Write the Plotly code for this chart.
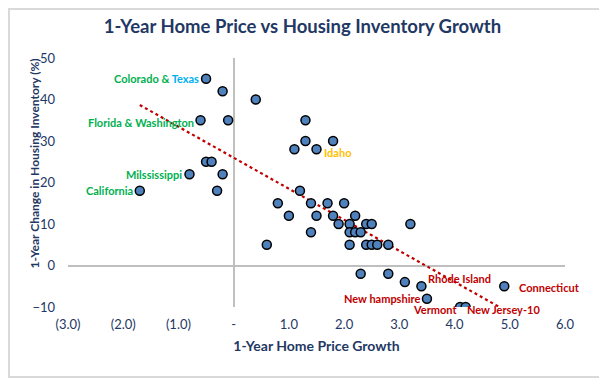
import numpy as np
import plotly.graph_objects as go

# ---- data ----
price_growth = [-0.5, -0.2, 0.4, -0.6, -0.1, -0.5, -0.4, -0.8, -0.2, -1.7, -0.3,
                1.3, 1.3, 1.8, 1.1, 1.5,
                1.2, 0.8, 1.4, 1.7, 2.0, 1.0, 1.5, 1.8, 2.2, 1.9, 2.1, 2.4, 2.5, 3.2,
                1.4, 2.1, 2.2, 2.3, 0.6, 2.1, 2.4, 2.5, 2.6, 2.8,
                2.3, 2.8, 3.1, 3.4, 3.5, 4.1, 4.2, 4.9]
inventory_growth = [45, 42, 40, 35, 35, 25, 25, 22, 22, 18, 18,
                    35, 30, 30, 28, 28,
                    18, 15, 15, 15, 15, 12, 12, 12, 12, 10, 10, 10, 10, 10,
                    8, 8, 8, 8, 5, 5, 5, 5, 5, 5,
                    -2, -2, -4, -5, -8, -10, -10, -5]

# labelled states: point index and text
label_index = [0, 3, 7, 9, 15, 43, 47, 44, 45, 46]
label_text = ['Colorado & <span style="color:#00B0F0">Texas</span>',
              'Florida & Washington', 'Milssissippi', 'California', 'Idaho',
              'Rhode Island', 'Connecticut', 'New hampshire', 'Vermont', 'New Jersey-10']
label_color = ['#00B050', '#00B050', '#00B050', '#00B050', '#FFC000',
               '#C00000', '#C00000', '#C00000', '#C00000', '#C00000']
label_side = ['left', 'left', 'left', 'left', 'right',
              'right', 'right', 'left', 'left', 'right']
label_dx = [-5, -5, -5, -5, 5, 5, 13, -5, -1, -1]
label_dy = [0, -2, 0, 0, -3, 8, -1, 0, -2, -2]

x_tickvals = [-3, -2, -1, 0, 1, 2, 3, 4, 5, 6]
x_ticktext = ['(3.0)', '(2.0)', '(1.0)', '-', '1.0', '2.0', '3.0', '4.0', '5.0', '6.0']
y_tickvals = [-10, 0, 10, 20, 30, 40, 50]

NAVY = '#1F3864'
FONT = 'Lato'

# page body has an 8px margin -> layout is expressed in figure coordinates
W, H = 607, 382
ML, MR, MT, MB = 60, 50, 50, 83
PW, PH = W - ML - MR, H - MT - MB


def px(fx):
    return (fx - ML) / PW


def py(fy):
    return (H - MB - fy) / PH


fig = go.Figure()

# trendline (linear fit)
slope, intercept = np.polyfit(price_growth, inventory_growth, 1)
tx = np.array([min(price_growth), max(price_growth)])
fig.add_trace(go.Scatter(x=tx, y=slope * tx + intercept, mode='lines',
                         line=dict(color='#C00000', width=2.2, dash='dot'),
                         hoverinfo='skip', showlegend=False))

fig.add_trace(go.Scatter(x=price_growth, y=inventory_growth, mode='markers',
                         marker=dict(size=9, color='#4F81BD',
                                     line=dict(color='#000000', width=1.5)),
                         showlegend=False))

for i, t, c, s, dx, dy in zip(label_index, label_text, label_color, label_side,
                              label_dx, label_dy):
    fig.add_annotation(x=price_growth[i], y=inventory_growth[i], xref='x', yref='y',
                       text=f'<b>{t}</b>', showarrow=False,
                       xanchor='right' if s == 'left' else 'left',
                       xshift=dx, yshift=dy,
                       font=dict(family=FONT, size=11, color=c))

# y axis title
fig.add_annotation(x=px(26), y=py(155.5), xref='paper', yref='paper',
                   text='<b>1-Year Change in Housing Inventory (%)</b>', showarrow=False,
                   textangle=-90, xanchor='center', yanchor='middle',
                   font=dict(family=FONT, size=12, color=NAVY))

fig.update_layout(
    width=W, height=H,
    margin=dict(l=ML, r=MR, t=MT, b=MB),
    paper_bgcolor='white', plot_bgcolor='white',
    title=dict(text='<b>1-Year Home Price vs Housing Inventory Growth</b>',
               x=294.5 / W, xref='container', xanchor='center',
               y=1 - 19 / H, yref='container', yanchor='middle',
               font=dict(family=FONT, size=18.5, color=NAVY)),
    font=dict(family=FONT, color=NAVY),
    xaxis=dict(range=[-3, 6], tickvals=x_tickvals, ticktext=x_ticktext,
               showgrid=False, showline=False, zeroline=True,
               zerolinecolor='#BFBFBF', zerolinewidth=2,
               tickfont=dict(family=FONT, size=13, color=NAVY),
               ticklabelstandoff=8,
               title=dict(text='<b>1-Year Home Price Growth</b>', standoff=10,
                          font=dict(family=FONT, size=14, color=NAVY))),
    yaxis=dict(range=[-10, 50], tickvals=y_tickvals,
               showgrid=False, showline=False, zeroline=True,
               zerolinecolor='#BFBFBF', zerolinewidth=2,
               tickfont=dict(family=FONT, size=13, color=NAVY),
               ticklabelstandoff=12),
)

# outer chart border
fig.add_shape(type='rect', xref='paper', yref='paper',
              x0=px(1), x1=px(595), y0=py(369), y1=py(1),
              line=dict(color='#D9D9D9', width=2), fillcolor='rgba(0,0,0,0)', layer='below')

fig.write_html('out.html')
